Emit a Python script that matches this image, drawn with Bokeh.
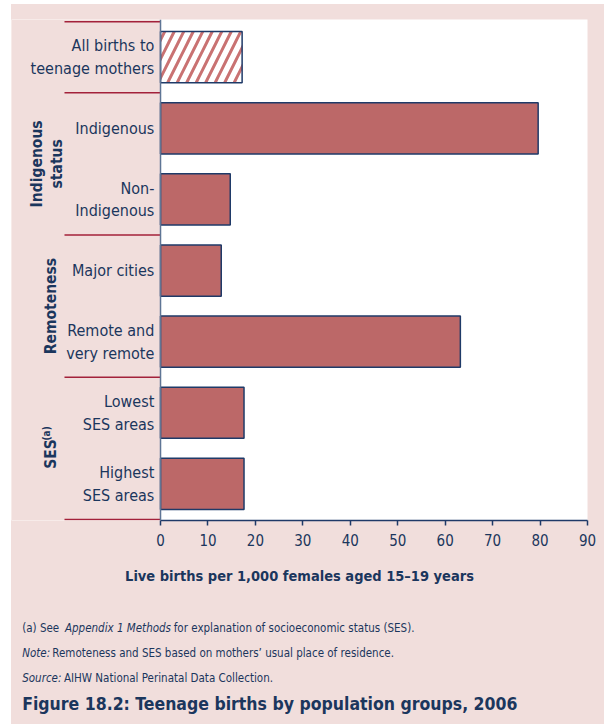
import numpy as np
from bokeh.plotting import figure
from bokeh.layouts import column
from bokeh.models import Range1d, BoxAnnotation, Span, FixedTicker, ColumnDataSource
from bokeh.core.properties import value
from bokeh.embed import file_html
from bokeh.resources import INLINE

# ---- data ----
categories = ["All births to\nteenage mothers", "Indigenous", "Non-\nIndigenous",
              "Major cities", "Remote and\nvery remote", "Lowest\nSES areas", "Highest\nSES areas"]
rates = [17.2, 79.6, 14.7, 12.8, 63.2, 17.6, 17.6]
groups = ["", "Indigenous\nstatus", "Indigenous\nstatus", "Remoteness", "Remoteness", "SES", "SES"]
x_ticks = [0, 10, 20, 30, 40, 50, 60, 70, 80, 90]
x_title = "Live births per 1,000 females aged 15\u201319 years"
fig_title = "Figure 18.2: Teenage births by population groups, 2006"
note_a = ["(a)  See ", "Appendix 1 Methods", "for explanation of socioeconomic status (SES)."]
note_b = ["Note:", "Remoteness and SES based on mothers\u2019 usual place of residence."]
note_c = ["Source:", "AIHW National Perinatal Data Collection."]

# ---- style ----
FONT = "DejaVu Sans Condensed"
PINK = "#F1DEDC"
BAR = "#BC6868"
HATCH = "#C97272"
NAVY = "#1B365D"
OUTLINE = "#1F3A68"
SEP = "#A3213A"

n = len(categories)
ypos = [n - i - 0.5 for i in range(n)]
fills = ["white" if g == "" else BAR for g in groups]
hatches = ["/" if g == "" else " " for g in groups]

src = ColumnDataSource(dict(y=ypos, rate=rates, cat=categories, fill=fills, hatch=hatches))

p = figure(width=593, height=596, x_range=Range1d(-31.41, 90), y_range=Range1d(-0.015, 7.03),
           output_backend="svg", toolbar_location=None, y_axis_location=None, margin=0,
           min_border_left=0, min_border_right=17, min_border_top=15, min_border_bottom=80,
           background_fill_color="white", border_fill_color=PINK, outline_line_color=None)
p.grid.visible = False

# pink band left of the value axis
p.add_layout(BoxAnnotation(right=0, fill_color=PINK, fill_alpha=1, line_color=None, level="underlay"))
p.add_layout(Span(location=0, dimension="height", line_color="#5F7595", line_width=1.5))

p.hbar(y="y", left=0, right="rate", height=0.72, source=src, fill_color="fill",
       line_color=OUTLINE, line_width=1.5, hatch_pattern="hatch", hatch_color=HATCH,
       hatch_weight=3, hatch_scale=19)

p.text(x=-1.3, y="y", text="cat", source=src, text_align="right", text_baseline="middle",
       text_font=value(FONT), text_font_size="16px", text_color=NAVY, text_line_height=1.2)

# group labels and separators
uniq = []
for g in groups:
    if g and g not in uniq:
        uniq.append(g)
gy = [float(np.mean([ypos[i] for i in range(n) if groups[i] == g])) for g in uniq]
gx = [-24.0, -23.1, -23.1]
ses_idx = uniq.index("SES")
gy_draw = [y - (0.08 if i == ses_idx else 0.0) for i, y in enumerate(gy)]
p.text(x=gx, y=gy_draw, text=uniq, angle=np.pi / 2, text_align="center", text_baseline="middle",
       text_font=value(FONT), text_font_style="bold", text_font_size="15.5px", text_color=NAVY,
       text_line_height=1.1)
p.text(x=[gx[ses_idx] - 1.0], y=[gy_draw[ses_idx] + 0.29], text=["(a)"], angle=np.pi / 2,
       text_align="center", text_baseline="middle", text_font=value(FONT),
       text_font_style="bold", text_font_size="10px", text_color=NAVY)

bounds = [float(n)] + [n - i for i in range(1, n) if groups[i] != groups[i - 1]] + [0.0]
p.segment(x0=-20.24, y0=bounds, x1=0, y1=bounds, line_color=SEP, line_width=1.5)

# x axis
ax = p.xaxis[0]
ax.ticker = FixedTicker(ticks=x_ticks)
ax.bounds = (0, 90)
ax.axis_line_color = OUTLINE
ax.axis_line_width = 1.5
ax.major_tick_line_color = OUTLINE
ax.major_tick_line_width = 1.5
ax.major_tick_out = 5
ax.major_tick_in = 0
ax.minor_tick_line_color = None
ax.major_label_text_font = FONT
ax.major_label_text_font_size = "15px"
ax.major_label_text_color = NAVY
ax.major_label_standoff = 8
ax.axis_label = x_title
ax.axis_label_text_font = FONT
ax.axis_label_text_font_size = "14.5px"
ax.axis_label_text_font_style = "bold"
ax.axis_label_text_color = NAVY
ax.axis_label_standoff = 19

# ---- footnotes panel ----
f = figure(width=593, height=124, x_range=Range1d(0, 593), y_range=Range1d(124, 0),
           output_backend="svg", toolbar_location=None, x_axis_location=None, y_axis_location=None,
           min_border=0, margin=0, background_fill_color=PINK, border_fill_color=PINK,
           outline_line_color=None)
f.grid.visible = False

def txt(x, y, t, style="normal", size="11.5px"):
    f.text(x=[x], y=[y], text=[t], text_font=value(FONT), text_font_size=size,
           text_font_style=style, text_color=NAVY, text_align="left", text_baseline="middle")

txt(11, 27, note_a[0])
txt(55, 27, note_a[1], "italic")
txt(167, 27, note_a[2])
txt(11, 52, note_b[0], "italic")
txt(42, 52, note_b[1])
txt(11, 77, note_c[0], "italic")
txt(54, 77, note_c[1])
txt(11, 103, fig_title, "bold", "17.5px")

layout = column(p, f, margin=(4, 0, 0, 11), spacing=0, styles={"background-color": PINK})
open("out.html", "w").write(file_html(layout, INLINE))
